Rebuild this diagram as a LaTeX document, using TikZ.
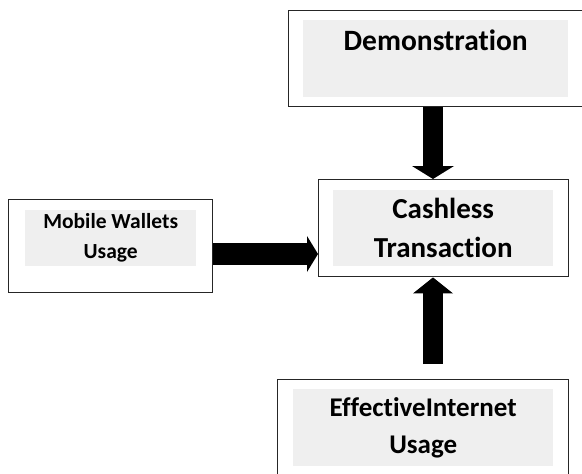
\documentclass[tikz,border=0pt]{standalone}
\usepackage{fontspec}
\setmainfont{Carlito}[Ligatures=NoCommon]
\usepackage{xcolor}
\usetikzlibrary{arrows.meta}

\definecolor{boxgray}{RGB}{239,239,239}

\tikzset{
    outerbox/.style={draw=black!85, line width=1.4pt, fill=white, anchor=north west, inner sep=0pt},
    graybox/.style={fill=boxgray, anchor=north west, inner sep=0pt, align=center, font=\bfseries},
    fatarrow/.style={line width=20pt, -{Triangle[length=13pt, width=42pt, line width=0pt]}}
}

\begin{document}
\begin{tikzpicture}[x=1pt, y=-1pt]
    \useasboundingbox (0,0) rectangle (582,474);

    % 1. Kotak luar
    \node[outerbox, minimum width=310pt, minimum height=96pt] (demoBox) at (288,10) {};
    \node[outerbox, minimum width=204pt, minimum height=93pt] (mobileBox) at (8,199) {};
    \node[outerbox, minimum width=250pt, minimum height=97pt] (cashBox) at (318,179) {};
    \node[outerbox, minimum width=291pt, minimum height=120pt] (effBox) at (277,379) {};

    % 2. Kotak abu-abu dengan teks
    \node[graybox, minimum width=265pt, minimum height=77pt, font=\bfseries\fontsize{29.5}{38}\selectfont] (demo) at (303,20) {Demonstration\\ \mbox{}};
    \node[graybox, minimum width=171pt, minimum height=56pt, font=\bfseries\fontsize{21.5}{30}\selectfont] (mobile) at (25,210) {Mobile Wallets\\Usage};
    \node[graybox, minimum width=220pt, minimum height=76pt, font=\bfseries\fontsize{29}{39}\selectfont] (cash) at (333,190) {Cashless\\Transaction};
    \node[graybox, minimum width=260pt, minimum height=77pt, font=\bfseries\fontsize{27}{37}\selectfont] (eff) at (293,389) {EffectiveInternet\\Usage};

    % 3. Panah tebal
    \draw[fatarrow] (demoBox.south -| 433,0) -- (cashBox.north -| 433,0);
    \draw[fatarrow, shorten <=15pt, -{Triangle[length=16pt, width=40pt, line width=0pt]}] (effBox.north -| 433,0) -- (cashBox.south -| 433,0);
    \draw[line width=22pt, -{Triangle[length=11pt, width=36pt, line width=0pt]}] (mobileBox.east |- 0,254) -- (cashBox.west |- 0,254);
\end{tikzpicture}
\end{document}
